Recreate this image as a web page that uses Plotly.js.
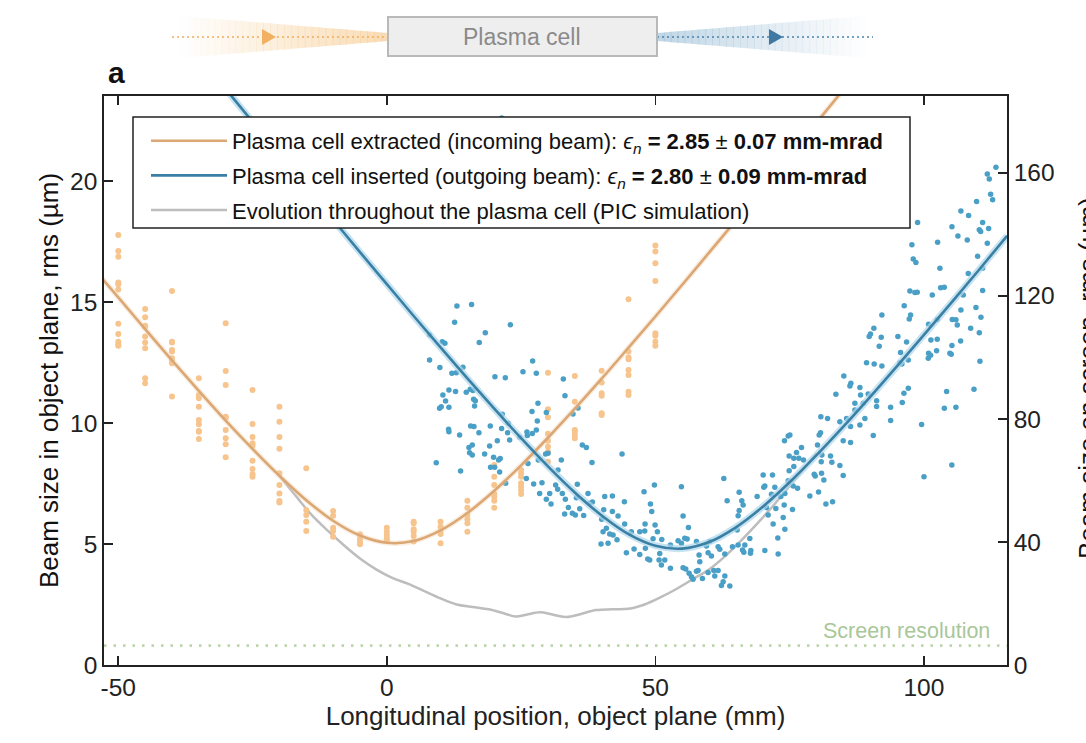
<!DOCTYPE html>
<html>
<head>
<meta charset="utf-8">
<script src="https://cdn.plot.ly/plotly-3.0.1.min.js"></script>
<style>
html,body{margin:0;padding:0;background:#fff;}
#chart{width:1086px;height:743px;}
</style>
</head>
<body>
<div id="chart"></div>
<script>
// ---------------- DATA ----------------
// Orange measurements (plasma cell extracted): column positions (mm) and beam sizes (µm)
const orangePos = [-50,-45,-40,-35,-30,-25,-20,-15,-10,-5,0,5,10,15,20,25,30,35,40,45,50];
const orangeCols = [
  [17.77,17.11,16.87,15.80,15.73,15.52,14.10,13.68,13.36,13.25,13.19],
  [14.71,14.37,14.02,13.98,13.57,13.33,13.09,11.85,11.64],
  [15.45,13.36,13.33,13.02,12.95,12.67,12.53,12.47,11.09],
  [11.85,11.16,11.02,10.67,10.12,9.95,9.67,9.64,9.34],
  [14.12,12.15,11.57,10.26,10.22,9.71,9.37,9.12,8.58],
  [11.36,9.96,9.42,9.16,9.06,8.44,8.10,7.88,7.78],
  [10.67,10.05,9.42,8.93,7.92,7.44,7.09,6.78,6.71],
  [8.13,6.40,6.20,5.92,5.54],
  [6.36,6.17,5.67,5.54,5.30],
  [5.40,5.23,5.09,4.99],
  [5.67,5.51,5.37,5.24,5.14],
  [5.92,5.86,5.61,5.51,5.33,5.10],
  [5.92,5.71,5.51,5.41,5.03],
  [6.79,6.50,6.20,6.02,5.86,5.51],
  [8.26,7.78,7.44,7.07,6.95,6.79,6.50],
  [8.06,7.92,7.78,7.51,7.37,7.23,7.07],
  [12.08,10.57,10.24,9.55,9.27,9.02,8.81,8.40],
  [11.94,10.88,9.71,9.64,9.50,9.37],
  [12.16,11.67,11.23,11.12,10.40,10.33],
  [15.11,12.95,12.71,12.63,12.19,11.98,11.29,11.16],
  [17.33,17.08,16.60,15.87,13.71,13.60,13.36,13.19]
];

// Blue measurements (plasma cell inserted): positions (mm) and beam sizes (µm)
const blueX = [
  7.96,13.05,15.78,12.62,22.99,18.33,17.21,10.32,10.81,7.96,
  9.88,12.12,12.93,14.17,20.13,22.06,25.35,27.15,27.83,32.86,
  33.17,28.14,11.56,12.80,10.44,10.94,9.82,10.13,11.56,14.79,
  15.53,16.03,16.16,16.47,16.34,21.50,22.62,27.03,28.02,27.83,
  29.70,34.66,35.60,11.50,11.56,13.55,15.60,16.22,17.15,19.26,
  21.37,22.49,22.86,24.73,26.09,26.16,27.09,15.29,15.91,15.41,
  15.91,9.20,13.73,18.21,19.14,20.57,19.88,20.81,21.12,19.32,
  20.07,21.00,22.12,25.97,26.28,27.34,28.20,29.57,30.01,28.89,
  28.45,29.70,30.32,30.57,31.43,31.87,32.49,31.81,32.68,33.24,
  33.80,33.11,34.54,35.10,35.47,35.91,35.29,36.40,37.15,38.20,
  37.46,37.77,38.27,36.65,43.80,40.57,42.00,40.38,42.00,43.05,
  44.23,40.01,40.88,40.26,39.88,41.50,42.12,41.19,42.86,44.29,
  45.53,47.09,48.02,48.08,49.94,47.89,49.82,49.08,49.32,44.60,
  46.03,48.14,49.57,51.19,50.38,50.81,47.09,48.58,21.37,
  54.85,55.16,56.16,54.23,54.85,55.47,55.91,57.65,52.80,58.27,
  58.14,59.51,59.82,60.44,60.13,61.68,61.99,62.93,55.16,55.66,
  56.28,56.71,57.02,57.65,57.96,58.76,59.82,60.88,61.06,61.68,
  62.93,62.62,62.30,63.86,62.74,63.36,64.35,65.41,65.22,65.41,
  65.60,65.60,66.09,66.34,66.65,66.22,66.47,67.58,67.77,67.71,
  68.95,70.07,70.38,70.19,70.69,70.38,71.81,72.24,71.62,71.00,
  71.93,72.43,72.86,72.80,73.36,73.80,74.11,73.98,74.11,74.73,
  74.91,74.91,75.78,75.53,75.66,76.47,75.78,76.28,77.21,76.71,
  77.58,74.04,74.73,75.04,78.76,79.57,79.76,80.38,80.94,81.37,
  80.88,81.00,80.19,80.81,82.06,80.50,80.75,81.75,82.99,82.86,
  82.61,84.35,84.97,84.97,84.35,85.60,86.34,86.34,87.15,87.15,
  88.08,89.01,90.57,89.63,88.20,86.22,86.40,88.08,91.19,91.19,
  93.80,93.80,95.97,96.28,97.09,99.57,100.01,103.80,104.23,83.61,
  88.70,50.69,51.12,51.75,52.80,48.95,105.2,
  113.41,111.80,112.17,112.42,112.79,109.81,106.89,108.32,110.93,110.31,
  112.05,110.56,105.22,106.33,108.07,111.80,98.82,97.76,102.55,98.01,
  98.51,102.98,110.00,110.93,108.26,110.93,97.39,98.32,98.76,101.55,
  103.11,103.79,107.33,109.69,106.89,110.62,96.33,97.52,97.27,92.17,
  90.68,90.06,89.81,92.05,95.15,100.87,102.48,101.30,102.48,105.28,
  105.96,106.21,108.70,110.31,106.83,105.22,96.77,91.68,95.65,95.90,
  95.53,97.08,100.87,101.24,100.81,102.36,105.09,104.84,110.43,89.32,
  90.74,92.17,85.09,109.32,105.96
];
const blueY = [
  13.64,14.83,14.90,14.16,14.06,13.73,13.33,13.36,13.29,12.60,
  12.29,12.05,12.08,12.30,11.91,11.87,12.12,12.56,12.05,11.82,
  11.12,10.81,11.36,11.30,11.16,10.91,10.61,10.67,10.65,11.27,
  11.39,11.34,10.98,10.92,10.70,10.36,9.99,10.47,10.08,9.71,
  10.43,10.37,10.62,9.74,9.64,9.50,9.88,9.85,9.60,9.88,
  9.77,9.60,9.30,9.41,9.63,9.48,9.57,8.99,9.09,8.77,
  8.68,8.36,8.02,8.72,9.05,9.27,8.58,8.47,8.53,8.17,
  8.17,7.97,7.51,7.71,8.33,7.48,8.47,8.72,8.75,7.53,
  7.09,6.85,7.09,6.65,7.44,8.06,8.47,7.26,7.09,6.85,
  6.51,6.24,6.27,6.20,7.47,6.46,6.91,9.09,8.99,8.37,
  7.09,6.68,6.74,6.18,8.72,6.96,6.98,6.41,6.34,6.16,
  6.75,6.02,5.65,5.51,5.00,5.41,5.37,5.03,5.17,5.83,
  5.51,5.51,5.54,5.83,5.78,7.16,7.44,6.65,6.34,4.64,
  4.79,4.82,5.22,5.19,5.51,4.61,4.57,4.38,22.60,
  7.37,6.16,5.68,5.13,5.03,5.24,5.21,5.10,4.96,4.27,
  4.55,4.92,4.64,4.50,5.10,4.89,4.78,4.59,4.02,3.97,
  3.79,3.65,3.54,3.87,3.90,3.57,3.82,3.90,3.68,3.90,
  3.68,3.44,3.28,3.26,7.71,6.79,4.89,4.96,5.58,6.17,
  6.38,7.14,6.79,6.61,4.96,4.75,4.66,5.23,4.73,4.62,
  6.96,7.85,7.40,7.34,6.50,4.73,7.85,7.34,7.05,6.20,
  5.83,6.47,4.59,5.25,6.96,6.09,5.61,6.61,7.09,7.61,
  8.03,8.64,8.20,6.43,7.40,7.30,8.54,8.78,8.99,8.54,
  8.47,9.27,9.46,9.50,6.98,7.88,7.81,7.15,7.92,7.64,
  8.40,8.68,9.09,10.26,10.19,9.50,9.60,6.65,6.75,8.38,
  8.64,8.24,7.83,9.27,10.05,10.19,9.85,9.19,10.81,10.54,
  9.92,10.19,9.48,11.20,11.16,11.53,11.64,11.47,10.92,10.68,
  10.65,10.10,10.85,11.23,11.43,9.94,7.78,10.61,11.30,11.19,
  10.81,4.34,4.13,4.34,4.00,4.34,8.26,
  20.57,20.29,20.08,19.45,19.22,19.15,18.76,18.57,18.28,17.98,
  18.04,17.91,18.11,17.73,17.56,17.43,18.28,17.36,17.47,16.78,
  16.63,16.39,16.89,16.39,16.18,15.47,15.45,15.39,15.40,15.29,
  15.59,15.61,15.29,14.77,14.67,14.37,14.84,14.46,14.30,14.46,
  13.91,13.68,13.57,13.54,13.57,14.08,14.28,13.43,13.46,14.28,
  14.26,14.05,13.91,13.73,13.39,13.20,13.35,13.17,12.91,12.44,
  12.49,12.60,12.88,12.80,12.67,12.98,12.84,12.88,12.55,12.49,
  12.44,12.35,11.94,11.39,10.65
];

// Fitted envelope, incoming beam (orange)
const fitOrangeX = [-53,-50,-45,-40,-35,-30,-25,-20,-15,-10,-5,0,5,10,15,20,25,30,35,40,45,50,55,60,65,70,75,80,85];
const fitOrangeY = [15.97,15.19,13.88,12.59,11.33,10.10,8.93,7.82,6.81,5.96,5.35,5.05,5.12,5.56,6.28,7.20,8.25,9.39,10.59,11.83,13.11,14.40,15.71,17.04,18.37,19.71,21.06,22.41,23.77];

// Fitted envelope, outgoing beam (blue)
const fitBlueX = [-35,-30,-25,-20,-15,-10,-5,0,5,10,15,20,25,30,35,40,45,50,55,60,65,70,75,80,85,90,95,100,105,110,115.5];
const fitBlueY = [25.16,23.80,22.44,21.09,19.74,18.40,17.06,15.74,14.42,13.12,11.84,10.59,9.37,8.21,7.13,6.18,5.41,4.93,4.81,5.08,5.69,6.54,7.55,8.67,9.85,11.08,12.35,13.64,14.94,16.26,17.73];

// PIC simulation (grey)
const picX = [-20,-17,-14,-11,-8,-5,-2,1,4,7,10,13,16,19,22,24,26,28.5,31,33.5,36,39,42,45,48,51,54,57,60,63,66,69,72,75,78,80];
const picY = [7.82,7.0,6.2,5.55,4.95,4.4,3.95,3.6,3.35,3.05,2.75,2.5,2.4,2.3,2.12,2.0,2.08,2.18,2.08,1.98,2.1,2.27,2.3,2.32,2.5,2.8,3.15,3.55,3.95,4.5,5.15,5.85,6.6,7.4,8.2,8.75];

const screenResolution = 0.8;
const xTicks = [-50, 0, 50, 100];
const yTicks = [0, 5, 10, 15, 20];
const y2Ticks = [0, 40, 80, 120, 160];

const legendNames = [
  'Plasma cell extracted (incoming beam): <i>ϵ</i><sub><i>n</i></sub> <b>= 2.85</b> ± <b>0.07 mm-mrad</b>',
  'Plasma cell inserted (outgoing beam): <i>ϵ</i><sub><i>n</i></sub> <b>= 2.80</b> ± <b>0.09 mm-mrad</b>',
  'Evolution throughout the plasma cell (PIC simulation)'
];

// ---------------- BUILD ----------------
const orangeX = [], orangeY = [];
orangePos.forEach((p, i) => orangeCols[i].forEach(v => { orangeX.push(p); orangeY.push(v); }));

const C_OR_PT = '#f6c48c', C_OR_LN = '#dba774';
const C_BL_PT = '#4a9fc6', C_BL_LN = '#3a80a5';
const C_GR = '#bdbdbd';
const FONT = 'Liberation Sans, Arial, Helvetica, sans-serif';

const traces = [
  {x: picX, y: picY, mode: 'lines', line: {color: C_GR, width: 2.5, shape: 'spline', smoothing: 1},
   name: legendNames[2], legendgroup: 'g3', legendrank: 3, hoverinfo: 'skip'},
  {x: orangeX, y: orangeY, mode: 'markers', marker: {color: C_OR_PT, size: 6}, showlegend: false, hoverinfo: 'skip'},
  {x: blueX, y: blueY, mode: 'markers', marker: {color: C_BL_PT, size: 5.5}, showlegend: false, hoverinfo: 'skip'},
  {x: fitOrangeX, y: fitOrangeY, mode: 'lines', line: {color: 'rgba(240,205,170,0.35)', width: 5.5, shape: 'spline'},
   showlegend: false, hoverinfo: 'skip'},
  {x: fitBlueX, y: fitBlueY, mode: 'lines', line: {color: 'rgba(175,215,235,0.7)', width: 7, shape: 'spline'},
   showlegend: false, hoverinfo: 'skip'},
  {x: fitOrangeX, y: fitOrangeY, mode: 'lines', line: {color: C_OR_LN, width: 2.6, shape: 'spline'},
   name: legendNames[0], legendgroup: 'g1', legendrank: 1, hoverinfo: 'skip'},
  {x: fitBlueX, y: fitBlueY, mode: 'lines', line: {color: C_BL_LN, width: 2.6, shape: 'spline'},
   name: legendNames[1], legendgroup: 'g2', legendrank: 2, hoverinfo: 'skip'},
  {x: [null], y: [null], yaxis: 'y2', showlegend: false, hoverinfo: 'skip'}
];

// ---------- schematic (decoration above the plot), pixel -> paper helpers ----------
const L = 104, R = 1007, T = 96, B = 665;
const px = v => (v - L) / (R - L);
const py = v => (B - v) / (B - T);
const shapes = [];
function fan(x0, x1, h0, h1, a0, a1, rgb, n) {
  const cy = 37;
  for (let i = 0; i < n; i++) {
    const xa = x0 + (x1 - x0) * i / n, xb = x0 + (x1 - x0) * (i + 1) / n;
    const ha = h0 + (h1 - h0) * i / n, hb = h0 + (h1 - h0) * (i + 1) / n;
    const a = a0 + (a1 - a0) * (i + 0.5) / n;
    shapes.push({type: 'path', xref: 'paper', yref: 'paper', layer: 'above',
      path: `M${px(xa)},${py(cy - ha)} L${px(xb + 0.6)},${py(cy - hb)} L${px(xb + 0.6)},${py(cy + hb)} L${px(xa)},${py(cy + ha)} Z`,
      fillcolor: `rgba(${rgb},${a.toFixed(3)})`, line: {width: 0}});
  }
}
fan(180, 388, 21, 4, 0.0, 0.6, '245,196,130', 30);
fan(657, 865, 4, 21, 0.55, 0.0, '140,180,208', 30);
// dotted beam axes
shapes.push({type: 'line', xref: 'paper', yref: 'paper', x0: px(172), x1: px(388), y0: py(37), y1: py(37),
  line: {color: '#f0ad5c', width: 1.6, dash: '2px,3px'}});
shapes.push({type: 'line', xref: 'paper', yref: 'paper', x0: px(657), x1: px(873), y0: py(37), y1: py(37),
  line: {color: '#4a82aa', width: 1.6, dash: '2px,3px'}});
// arrow heads
shapes.push({type: 'path', xref: 'paper', yref: 'paper',
  path: `M${px(262)},${py(29)} L${px(276)},${py(37)} L${px(262)},${py(45)} Z`, fillcolor: '#f2b062', line: {width: 0}});
shapes.push({type: 'path', xref: 'paper', yref: 'paper',
  path: `M${px(769)},${py(29)} L${px(783)},${py(37)} L${px(769)},${py(45)} Z`, fillcolor: '#3f78a2', line: {width: 0}});
// plasma cell box
shapes.push({type: 'rect', xref: 'paper', yref: 'paper', x0: px(388), x1: px(657), y0: py(56), y1: py(17),
  fillcolor: '#eeeeee', line: {color: '#b9b9b9', width: 2}});
// screen resolution line
shapes.push({type: 'line', xref: 'paper', yref: 'y', x0: 0, x1: 1, y0: screenResolution, y1: screenResolution,
  line: {color: '#bcd5aa', width: 2.6, dash: '2.5px,7px'}, layer: 'below'});
// legend frame (white box with black border, legend drawn on top of it)
shapes.push({type: 'rect', xref: 'paper', yref: 'paper', x0: px(133), x1: px(910), y0: py(228), y1: py(117),
  fillcolor: '#ffffff', line: {color: '#222', width: 1.5}, layer: 'above'});

const annotations = [
  {text: 'Plasma cell', xref: 'paper', yref: 'paper', x: px(522), y: py(37), showarrow: false,
   font: {family: FONT, size: 23, color: '#8a8a8a'}, xanchor: 'center', yanchor: 'middle'},
  {text: '<b>a</b>', xref: 'paper', yref: 'paper', x: px(106), y: py(73), showarrow: false,
   font: {family: FONT, size: 30, color: '#111'}, xanchor: 'left', yanchor: 'middle'},
  {text: 'Screen resolution', xref: 'paper', yref: 'y', x: px(992), y: 1.42, showarrow: false,
   font: {family: FONT, size: 21.5, color: '#a9c799'}, xanchor: 'right', yanchor: 'middle'},
  // right-axis title, partly running off the right edge as in the reference
  {text: 'Beam size on screen, rms (µm)', xref: 'paper', yref: 'paper', x: px(1071), y: py(378), showarrow: false,
   textangle: -90, font: {family: FONT, size: 26, color: '#111'}, xanchor: 'left', yanchor: 'middle'}
];

const axisCommon = {
  showgrid: false, zeroline: false, showline: true, linecolor: '#222', linewidth: 1.8,
  ticks: 'inside', ticklen: 9, tickwidth: 1.6, tickcolor: '#222',
  tickfont: {family: FONT, size: 24.5, color: '#222'}, automargin: false
};

const layout = {
  width: 1086, height: 743,
  margin: {l: L, r: 1086 - R, t: T, b: 743 - B, pad: 0},
  paper_bgcolor: '#fff', plot_bgcolor: '#fff',
  font: {family: FONT, color: '#222'},
  showlegend: true,
  legend: {
    x: px(146), y: py(120), xanchor: 'left', yanchor: 'top',
    bgcolor: 'rgba(0,0,0,0)', borderwidth: 0,
    font: {family: FONT, size: 22, color: '#111'},
    traceorder: 'grouped', tracegroupgap: 3, itemwidth: 76
  },
  xaxis: Object.assign({}, axisCommon, {
    range: [-52.66, 115.47], tickvals: xTicks, ticktext: xTicks.map(String), mirror: 'ticks',
    title: {text: 'Longitudinal position, object plane (mm)', font: {family: FONT, size: 26, color: '#222'}, standoff: 6}
  }),
  yaxis: Object.assign({}, axisCommon, {
    range: [0, 23.51], tickvals: yTicks, ticktext: yTicks.map(String),
    title: {text: 'Beam size in object plane, rms (µm)', font: {family: FONT, size: 26, color: '#111'}, standoff: 4}
  }),
  yaxis2: Object.assign({}, axisCommon, {
    range: [0, 185], tickvals: y2Ticks, ticktext: y2Ticks.map(String), overlaying: 'y', side: 'right', anchor: 'x'
  }),
  shapes: shapes,
  annotations: annotations
};

Plotly.newPlot('chart', traces, layout, {displayModeBar: false, staticPlot: true});
</script>
</body>
</html>
